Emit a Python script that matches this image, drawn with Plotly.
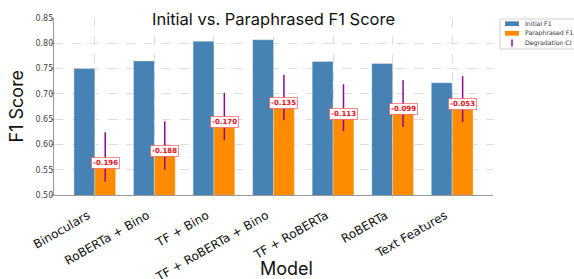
import plotly.graph_objects as go

models = ["Binoculars", "RoBERTa + Bino", "TF + Bino", "TF + RoBERTa + Bino",
          "TF + RoBERTa", "RoBERTa", "Text Features"]
initial_f1 = [0.750, 0.765, 0.804, 0.807, 0.764, 0.760, 0.722]
degradation = [-0.196, -0.188, -0.170, -0.135, -0.113, -0.099, -0.053]
paraphrased_f1 = [0.554, 0.577, 0.634, 0.672, 0.651, 0.661, 0.669]
ci_low = [0.526, 0.550, 0.608, 0.648, 0.626, 0.635, 0.644]
ci_high = [0.624, 0.646, 0.702, 0.738, 0.719, 0.727, 0.735]
y_ticks = [0.50, 0.55, 0.60, 0.65, 0.70, 0.75, 0.80, 0.85]
legend_names = ["Initial F1", "Paraphrased F1", "Degradation CI"]

BLUE = "#4682B4"
ORANGE = "#FF8C00"
PURPLE = "#8E0A8E"
W = 0.35
idx = list(range(len(models)))
x_init = [i - W / 2 for i in idx]
x_para = [i + W / 2 for i in idx]

# figure geometry (pixels)
FW, FH = 574, 279
ML, MR, MT, MB = 54, 81, 18, 84
PW, PH = FW - ML - MR, FH - MT - MB


def px(x):
    return (x - ML) / PW


def py(y):
    return (FH - MB - y) / PH


fig = go.Figure()
fig.add_trace(go.Bar(x=x_init, y=initial_f1, width=W, name=legend_names[0], showlegend=False,
                     marker=dict(color=BLUE, line=dict(color="rgba(255,255,255,0.5)", width=0.6))))
fig.add_trace(go.Bar(x=x_para, y=paraphrased_f1, width=W, name=legend_names[1], showlegend=False,
                     marker=dict(color=ORANGE, line=dict(color="rgba(255,255,255,0.5)", width=0.6))))

ci_x, ci_y = [], []
for xp, lo, hi in zip(x_para, ci_low, ci_high):
    ci_x += [xp, xp, None]
    ci_y += [lo, hi, None]
fig.add_trace(go.Scatter(x=ci_x, y=ci_y, mode="lines", line=dict(color=PURPLE, width=1.5),
                         name=legend_names[2], showlegend=False, hoverinfo="skip"))

for xp, pv, d in zip(x_para, paraphrased_f1, degradation):
    fig.add_annotation(x=xp, y=pv + 0.01, text=f"<b>{d:.3f}</b>", showarrow=False,
                       xanchor="center", yanchor="middle",
                       font=dict(family="DejaVu Sans", size=7, color="#e8101a"),
                       bgcolor="white", bordercolor="rgba(255,60,60,0.6)", borderwidth=1, borderpad=1)

# axis titles
fig.add_annotation(xref="paper", yref="paper", x=px(16), y=0.5, text="F1 Score", textangle=-90,
                   xanchor="center", yanchor="middle",
                   showarrow=False, font=dict(family="Inter", size=18, color="#111"))
fig.add_annotation(xref="paper", yref="paper", x=px(286), y=py(268), text="Model",
                   xanchor="center", yanchor="middle",
                   showarrow=False, font=dict(family="Inter", size=18, color="#111"))

# compact legend (upper right, outside the axes)
shapes = [dict(type="rect", xref="paper", yref="paper", x0=px(500), x1=px(590),
               y0=py(49), y1=py(19), line=dict(color="#d0d0d0", width=1), fillcolor="white",
               layer="above")]
rows = [23.7, 33.3, 43.0]
for name, color, ry in zip(legend_names, [BLUE, ORANGE, PURPLE], rows):
    if name == legend_names[2]:
        shapes.append(dict(type="line", xref="paper", yref="paper", x0=px(512), x1=px(512),
                           y0=py(ry + 3.5), y1=py(ry - 3.5), line=dict(color=color, width=1.5),
                           layer="above"))
    else:
        shapes.append(dict(type="rect", xref="paper", yref="paper", x0=px(505), x1=px(519),
                           y0=py(ry + 2.4), y1=py(ry - 2.4), line=dict(width=0),
                           fillcolor=color, layer="above"))
    fig.add_annotation(xref="paper", yref="paper", x=px(523), y=py(ry), text=name,
                       xanchor="left", yanchor="middle", showarrow=False,
                       font=dict(family="DejaVu Sans", size=6.2, color="#333"))

fig.update_layout(
    width=FW, height=FH,
    margin=dict(l=ML, r=MR, t=MT, b=MB, autoexpand=False),
    paper_bgcolor="white", plot_bgcolor="white",
    barmode="overlay",
    shapes=shapes,
    title=dict(text="Initial vs. Paraphrased F1 Score", x=0.5, xref="paper",
               y=1 - 19 / FH, yref="container", xanchor="center", yanchor="middle",
               font=dict(family="Inter", size=16.5, color="#111")),
    showlegend=False,
)
fig.update_xaxes(range=[-0.685, 6.685], tickvals=idx, ticktext=models, tickangle=-30,
                 tickfont=dict(family="DejaVu Sans", size=12, color="#111"), automargin=False,
                 ticklabelshift=-7, ticklabelstandoff=5,
                 showgrid=True, gridcolor="#dddddd", griddash="dash", gridwidth=0.6,
                 showline=True, linecolor="#999999", linewidth=1.2,
                 ticks="outside", ticklen=3, tickcolor="#e4e4e4", zeroline=False)
fig.update_yaxes(range=[0.5, 0.85], tickvals=y_ticks, tickformat=".2f", automargin=False,
                 tickfont=dict(family="DejaVu Sans", size=8, color="#444"),
                 ticklabelstandoff=-4,
                 showgrid=True, gridcolor="#dddddd", griddash="dash", gridwidth=0.6,
                 showline=True, linecolor="#999999", linewidth=1.2,
                 ticks="outside", ticklen=2, tickcolor="#999999", zeroline=False)

fig.write_html("out.html", config={"displayModeBar": False},
               post_script="document.body.style.margin='0px';document.body.style.overflow='hidden';")
